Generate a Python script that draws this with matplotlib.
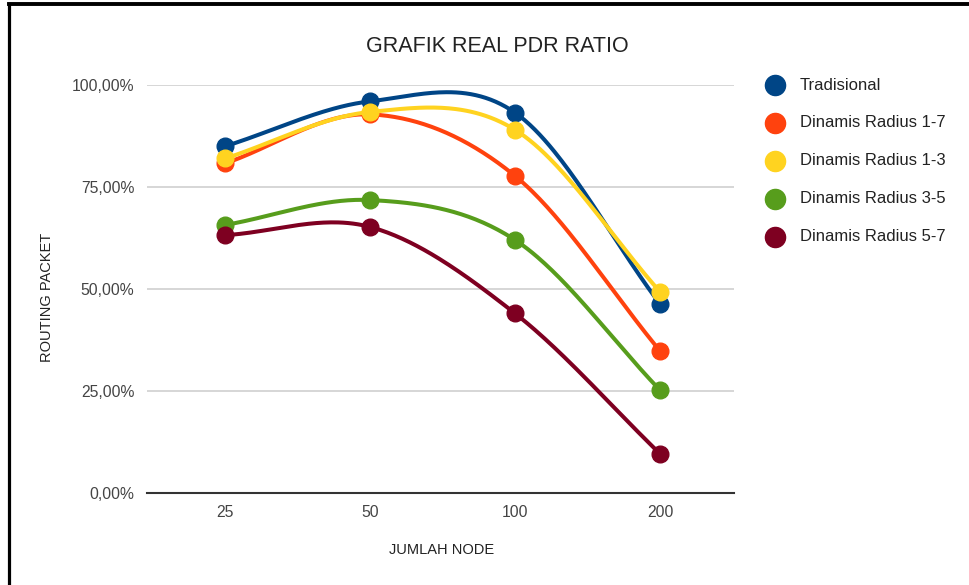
import matplotlib
matplotlib.use('Agg')
import matplotlib.pyplot as plt
from matplotlib.lines import Line2D
import numpy as np

plt.rcParams['font.family'] = ['Liberation Sans', 'DejaVu Sans']

# jumlah node per skenario
nodes = ['25', '50', '100', '200']

# PDR (%) tiap metode
tradisional = [85.0, 96.0, 93.2, 46.3]
radius_1_7 = [80.8, 92.8, 77.7, 34.8]
radius_1_3 = [82.0, 93.4, 89.0, 49.3]
radius_3_5 = [65.7, 71.8, 62.0, 25.2]
radius_5_7 = [63.2, 65.2, 44.0, 9.6]

series = [
    ('Tradisional', tradisional, '#004586'),
    ('Dinamis Radius 1-7', radius_1_7, '#ff420e'),
    ('Dinamis Radius 1-3', radius_1_3, '#ffd320'),
    ('Dinamis Radius 3-5', radius_3_5, '#579d1c'),
    ('Dinamis Radius 5-7', radius_5_7, '#7e0021'),
]


def smooth(y, n=60):
    # catmull-rom lewat titik data (sumbu kategori berjarak sama)
    y = np.asarray(y, dtype=float)
    m = np.zeros_like(y)
    m[1:-1] = (y[2:] - y[:-2]) / 2
    m[0] = y[1] - y[0]
    m[-1] = y[-1] - y[-2]
    xs, ys = [], []
    t = np.linspace(0, 1, n)
    h00 = 2 * t**3 - 3 * t**2 + 1
    h10 = t**3 - 2 * t**2 + t
    h01 = -2 * t**3 + 3 * t**2
    h11 = t**3 - t**2
    for i in range(len(y) - 1):
        xs.append(i + t)
        ys.append(h00 * y[i] + h10 * m[i] + h01 * y[i + 1] + h11 * m[i + 1])
    return np.concatenate(xs), np.concatenate(ys)


fig = plt.figure(figsize=(9.7, 5.85), dpi=100)
ax = fig.add_axes([0.1515, 0.1573, 0.6052, 0.6974])

x = np.arange(len(nodes))
for name, vals, color in series:
    sx, sy = smooth(vals)
    ax.plot(sx, sy, color=color, lw=2.9, solid_capstyle='round', zorder=3)
    ax.plot(x, vals, 'o', color=color, ms=12, zorder=3)

ax.set_xlim(-0.54, 3.51)
ax.set_ylim(0, 100)
ax.set_xticks(x)
ax.set_xticklabels(nodes)
ax.set_yticks([0, 25, 50, 75, 100])
ax.set_yticklabels(['0,00%', '25,00%', '50,00%', '75,00%', '100,00%'])
ax.tick_params(length=0, labelsize=11.3, colors='#444444')
ax.tick_params(axis='x', pad=9)
ax.tick_params(axis='y', pad=9)

for s in ['top', 'right', 'left']:
    ax.spines[s].set_visible(False)
ax.spines['bottom'].set_color('#333333')
ax.spines['bottom'].set_linewidth(1.5)
ax.grid(axis='y', color='#cccccc', lw=1.1)
ax.set_axisbelow(True)

ax.set_xlabel('JUMLAH NODE', fontsize=10.5, color='#222222')
ax.set_ylabel('ROUTING PACKET', fontsize=10.5, color='#222222')
ax.xaxis.set_label_coords(0.5026, -0.123)
ax.yaxis.set_label_coords(-0.158, 0.479)

fig.text(497 / 970, 1 - 46 / 585, 'GRAFIK REAL PDR RATIO', ha='center',
         va='center', fontsize=15.5, color='#222222')

# legenda manual di kanan
for i, (name, vals, color) in enumerate(series):
    yy = 1 - (85 + i * 37.9) / 585
    fig.add_artist(Line2D([775 / 970], [yy], transform=fig.transFigure,
                          marker='o', ms=14.5, color=color, ls='none'))
    fig.text(800 / 970, yy, name, va='center', ha='left', fontsize=12,
             color='#222222')

# bingkai hitam atas & kiri
fig.add_artist(Line2D([9 / 970, 1], [1 - 4 / 585, 1 - 4 / 585],
                      transform=fig.transFigure, color='black', lw=2.8))
fig.add_artist(Line2D([9 / 970, 9 / 970], [1 - 4 / 585, 0],
                      transform=fig.transFigure, color='black', lw=2.3))

fig.savefig('out.png', dpi=100)
